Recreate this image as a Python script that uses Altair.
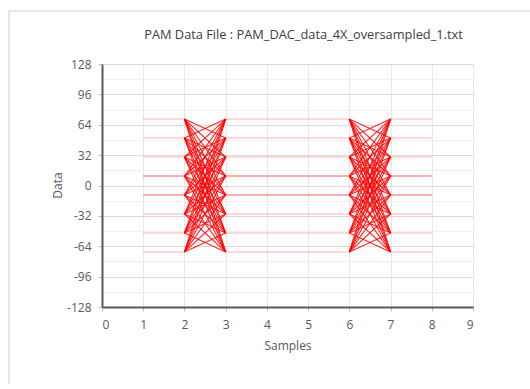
import altair as alt
import pandas as pd

# PAM-8 levels
levels = [70, 50, 30, 10, -10, -30, -50, -70]
# x positions of the segments in the eye diagram
flat_segments = [(1, 2), (3, 6), (7, 8)]
transition_segments = [(2, 3), (6, 7)]
y_ticks = [-128, -112, -96, -80, -64, -48, -32, -16, 0, 16, 32, 48, 64, 80, 96, 112, 128]
x_ticks = [0, 1, 2, 3, 4, 5, 6, 7, 8, 9]

rows = []
pid = 0
for (x0, x1) in flat_segments:
    for lv in levels:
        w = 0.65 if abs(lv) == 10 else 0.3
        rows.append(dict(pid=pid, x=x0, y=lv, op=w))
        rows.append(dict(pid=pid, x=x1, y=lv, op=w))
        pid += 1
for (x0, x1) in transition_segments:
    for a in levels:
        for b in levels:
            if a == b:
                continue
            rows.append(dict(pid=pid, x=x0, y=a, op=0.85))
            rows.append(dict(pid=pid, x=x1, y=b, op=0.85))
            pid += 1
df = pd.DataFrame(rows)

xs = alt.Scale(domain=[0, 9], nice=False, zero=False)
ys = alt.Scale(domain=[-128, 128], nice=False, zero=False)

FONT = "Open Sans"
LC = "#595959"
MAJOR = "datum.value % 32 === 0"

lines = alt.Chart(df).mark_line(color="#ff0000", strokeWidth=1.1).encode(
    x=alt.X(
        "x:Q",
        scale=xs,
        axis=alt.Axis(
            values=x_ticks,
            title="Samples",
            grid=True,
            gridColor="#e6e6e6",
            domainColor=LC,
            domainWidth=2,
            tickColor="#bfbfbf",
            tickSize=4,
            labelPadding=8,
            labelOverlap=False,
            labelColor=LC,
            labelFont=FONT,
            labelFontSize=12,
            titleFont=FONT,
            titleFontSize=12,
            titleFontWeight="normal",
            titleColor=LC,
            titleY=38,
            titleBaseline="middle",
        ),
    ),
    y=alt.Y(
        "y:Q",
        scale=ys,
        axis=alt.Axis(
            values=y_ticks,
            title="Data",
            grid=True,
            gridColor={"condition": {"test": MAJOR, "value": "#d9d9d9"}, "value": "#f0f0f0"},
            domainColor=LC,
            domainWidth=2,
            tickColor={"condition": {"test": MAJOR, "value": "#bfbfbf"}, "value": "rgba(0,0,0,0)"},
            tickSize=4,
            labelPadding=7,
            labelOverlap=False,
            labelExpr="datum.value % 32 === 0 ? datum.value + '' : ''",
            labelColor=LC,
            labelFont=FONT,
            labelFontSize=12,
            titleFont=FONT,
            titleFontSize=12,
            titleFontWeight="normal",
            titleColor=LC,
            titleX=-45,
            titleY=121,
            titleAngle=-90,
            titleAlign="center",
            titleBaseline="middle",
        ),
    ),
    detail="pid:N",
    opacity=alt.Opacity("op:Q", scale=None, legend=None),
)

frame_left = alt.Chart(pd.DataFrame({"a": [0]})).mark_rule(
    color="#d0d0d0", strokeWidth=1, clip=False
).encode(x=alt.value(-93), y=alt.value(-53), y2=alt.value(320))
frame_top = alt.Chart(pd.DataFrame({"a": [0]})).mark_rule(
    color="#d0d0d0", strokeWidth=1, clip=False
).encode(x=alt.value(-93), x2=alt.value(440), y=alt.value(-53))

chart = (
    alt.layer(lines, frame_left, frame_top)
    .properties(
        width=371,
        height=243,
        autosize=alt.AutoSizeParams(type="none"),
        padding={"left": 102, "top": 64, "right": 57, "bottom": 82},
        title=alt.TitleParams(
            "PAM Data File : PAM_DAC_data_4X_oversampled_1.txt",
            font=FONT,
            fontSize=12.8,
            fontWeight="normal",
            color="#404040",
            anchor="middle",
            offset=0,
            dy=31,
            dx=16,
        ),
    )
    .configure_view(stroke="#262626", strokeWidth=1.2)
    .configure(background="white")
)

chart.save("out.html", embed_options={"renderer": "svg", "actions": False})
